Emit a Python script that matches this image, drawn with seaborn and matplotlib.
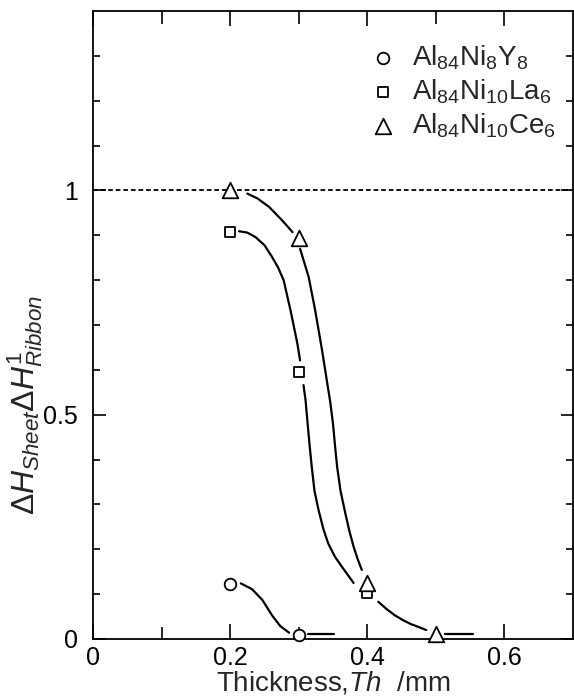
import numpy as np
import pandas as pd
import matplotlib
matplotlib.use('Agg')
import matplotlib.pyplot as plt
import seaborn as sns

sns.set_style('ticks')
plt.rcParams['font.family'] = ['Liberation Sans', 'DejaVu Sans']
plt.rcParams['mathtext.fontset'] = 'custom'
plt.rcParams['mathtext.rm'] = 'Liberation Sans'
plt.rcParams['mathtext.it'] = 'Liberation Sans:italic'
plt.rcParams['mathtext.bf'] = 'Liberation Sans:bold'

alloys = ['Y8', 'La6', 'Ce6']
labels = [r'Al$_{84}$Ni$_{8}$Y$_{8}$', r'Al$_{84}$Ni$_{10}$La$_{6}$', r'Al$_{84}$Ni$_{10}$Ce$_{6}$']
markers = ['o', 's', '^']
msizes = [70, 60, 125]

y8_x = [0.2, 0.3]
y8_y = [0.122, 0.010]
la6_x = [0.2, 0.3, 0.4]
la6_y = [0.908, 0.595, 0.103]
ce6_x = [0.2, 0.3, 0.4, 0.5]
ce6_y = [1.0, 0.895, 0.125, 0.012]

## hand drawn guide curves, traced point by point (segments break at the markers)
y8_curve1_x = [0.2155, 0.232, 0.247, 0.261, 0.273, 0.286]
y8_curve1_y = [0.124, 0.111, 0.087, 0.053, 0.029, 0.014]
y8_curve2_x = [0.314, 0.351]
y8_curve2_y = [0.012, 0.012]

la6_curve1_x = [0.213, 0.225, 0.237, 0.250, 0.261, 0.270, 0.278, 0.288, 0.298, 0.302]
la6_curve1_y = [0.909, 0.906, 0.896, 0.878, 0.852, 0.828, 0.800, 0.733, 0.659, 0.621]
la6_curve2_x = [0.307, 0.310, 0.313, 0.316, 0.319, 0.323, 0.329, 0.336, 0.343, 0.353, 0.363, 0.372, 0.380]
la6_curve2_y = [0.566, 0.532, 0.480, 0.430, 0.384, 0.330, 0.287, 0.245, 0.213, 0.183, 0.161, 0.142, 0.125]

ce6_curve1_x = [0.225, 0.240, 0.257, 0.276, 0.291]
ce6_curve1_y = [0.993, 0.982, 0.963, 0.933, 0.907]
ce6_curve2_x = [0.302, 0.3145, 0.324, 0.334, 0.346, 0.350, 0.353, 0.356, 0.361, 0.368, 0.374, 0.380, 0.386, 0.392]
ce6_curve2_y = [0.870, 0.807, 0.733, 0.644, 0.528, 0.480, 0.430, 0.384, 0.330, 0.280, 0.240, 0.206, 0.178, 0.154]
ce6_curve3_x = [0.416, 0.428, 0.440, 0.452, 0.464, 0.476, 0.486]
ce6_curve3_y = [0.083, 0.067, 0.053, 0.042, 0.033, 0.026, 0.020]
ce6_curve4_x = [0.514, 0.554]
ce6_curve4_y = [0.011, 0.011]

# 組合 dataframe
pts = pd.DataFrame({
    'alloy': ['Y8'] * len(y8_x) + ['La6'] * len(la6_x) + ['Ce6'] * len(ce6_x),
    'th': y8_x + la6_x + ce6_x,
    'ratio': y8_y + la6_y + ce6_y,
})

segs = [
    (y8_curve1_x, y8_curve1_y), (y8_curve2_x, y8_curve2_y),
    (la6_curve1_x, la6_curve1_y), (la6_curve2_x, la6_curve2_y),
    (ce6_curve1_x, ce6_curve1_y), (ce6_curve2_x, ce6_curve2_y),
    (ce6_curve3_x, ce6_curve3_y), (ce6_curve4_x, ce6_curve4_y),
]
curve_list = []
for i, (sx, sy) in enumerate(segs):
    curve_list.append(pd.DataFrame({'seg': i, 'th': sx, 'ratio': sy}))
curves = pd.concat(curve_list, ignore_index=True)

fig = plt.figure(figsize=(5.74, 6.96), dpi=100)
ax = fig.add_axes([93 / 574, 1 - 639 / 696, 480 / 574, 628 / 696])

sns.lineplot(data=curves, x='th', y='ratio', units='seg', estimator=None, sort=False,
             color='black', lw=1.6, ax=ax, legend=False)
ax.axhline(1, color='black', lw=1.3, dashes=(2.6, 1.6))

for alloy, lab, mk, s in zip(alloys, labels, markers, msizes):
    sns.scatterplot(data=pts[pts['alloy'] == alloy], x='th', y='ratio', marker=mk, s=s,
                    facecolor='white', edgecolor='black', linewidth=1.3, label=lab,
                    ax=ax, zorder=3, clip_on=False)

ax.set_xlim(0, 0.7)
ax.set_ylim(0, 1.4)
ax.set_xticks([0, 0.2, 0.4, 0.6])
ax.set_xticklabels(['0', '0.2', '0.4', '0.6'])
ax.set_xticks(np.arange(0.1, 0.7, 0.2), minor=True)
ax.set_yticks([0, 0.5, 1])
ax.set_yticklabels(['0', '0.5', '1'])
ax.set_yticks([0.1, 0.2, 0.3, 0.4, 0.6, 0.7, 0.8, 0.9, 1.1, 1.2, 1.3], minor=True)
ax.tick_params(which='both', direction='in', top=True, right=True, width=1.2, colors='black',
               labelsize=18)
ax.tick_params(axis='x', which='major', length=11, pad=5)
ax.tick_params(axis='x', which='minor', length=9)
ax.tick_params(axis='y', which='major', length=9, pad=11)
ax.tick_params(axis='y', which='minor', length=5)
for sp in ax.spines.values():
    sp.set_linewidth(1.3)
    sp.set_color('black')

ax.set_xlabel(r'Thickness,$\it{Th}$  /mm', fontsize=20, va='baseline')
ax.xaxis.set_label_coords(0.5, (639 - 690) / 628)
ax.set_ylabel(r'$\it{\Delta H_{Sheet}\Delta H^{1}_{Ribbon}}$', fontsize=23, va='center')
ax.yaxis.set_label_coords((25 - 93) / 480, (639 - 405) / 628)

ax.legend(loc='upper left', bbox_to_anchor=(0.564, 0.957), frameon=False, fontsize=20,
          handletextpad=0.55, labelspacing=0.2, handlelength=1.0, borderpad=0.2,
          borderaxespad=0)

fig.savefig('out.png', dpi=100)
